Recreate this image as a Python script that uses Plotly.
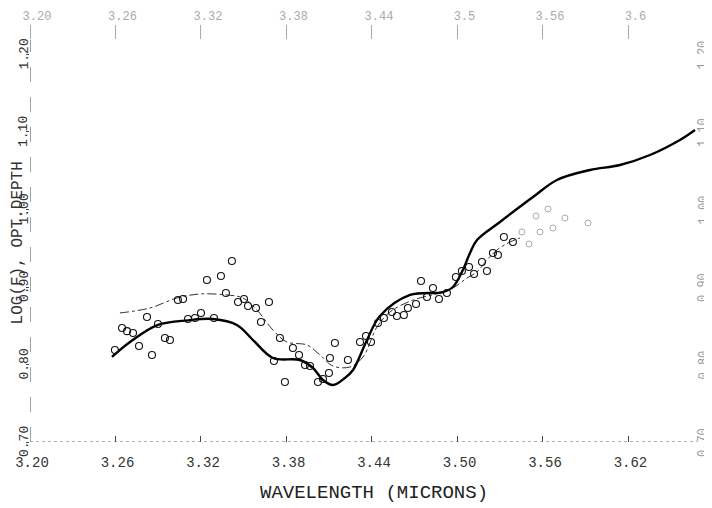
import plotly.graph_objects as go

# ---- data ----
wl_thick = [3.2575, 3.2702, 3.2898, 3.3109, 3.3284, 3.3452, 3.3565, 3.3705, 3.3895, 3.3986,
            3.4056, 3.4126, 3.4210, 3.4267, 3.4365, 3.4456, 3.4667, 3.4898, 3.4968, 3.5038,
            3.5088, 3.5137, 3.5298, 3.5530, 3.5698, 3.5930, 3.6140, 3.6351, 3.6561, 3.6667]
v_thick = [0.8097, 0.829, 0.851, 0.857, 0.8587, 0.851, 0.8316, 0.8084, 0.8058, 0.7955,
           0.780, 0.7735, 0.7826, 0.7929, 0.8316, 0.8626, 0.8897, 0.8935, 0.900, 0.922,
           0.9439, 0.9606, 0.9839, 1.0161, 1.0381, 1.051, 1.0574, 1.0703, 1.0897, 1.1026]

wl_thin = [3.2631, 3.2842, 3.3031, 3.3193, 3.3382, 3.3495, 3.3593, 3.3705, 3.3803, 3.3944,
           3.4035, 3.4126, 3.4245, 3.4337, 3.4435, 3.4526, 3.4688, 3.4877, 3.4968, 3.5067,
           3.5137, 3.5207, 3.5277, 3.5368, 3.5438]
v_thin = [0.8665, 0.8729, 0.8858, 0.891, 0.8897, 0.8858, 0.8703, 0.8445, 0.829, 0.8252,
          0.8123, 0.7981, 0.7968, 0.8097, 0.8484, 0.8677, 0.8832, 0.8923, 0.8987, 0.9116,
          0.9194, 0.9348, 0.9477, 0.958, 0.9632]

wl_pts = [3.2596, 3.2646, 3.2681, 3.2723, 3.2765, 3.2821, 3.2856, 3.2898, 3.2947, 3.2982,
          3.3038, 3.3074, 3.3109, 3.3158, 3.3200, 3.3242, 3.3291, 3.3340, 3.3375, 3.3417,
          3.3460, 3.3502, 3.3530, 3.3586, 3.3621, 3.3677, 3.3712, 3.3754, 3.3789, 3.3845,
          3.3888, 3.3930, 3.3965, 3.4021, 3.4056, 3.4098, 3.4105, 3.4140, 3.4231, 3.4316,
          3.4358, 3.4393, 3.4442, 3.4484, 3.4540, 3.4575, 3.4624, 3.4652, 3.4709, 3.4744,
          3.4786, 3.4828, 3.4870, 3.4926, 3.4989, 3.5031, 3.5081, 3.5116, 3.5172, 3.5207,
          3.5249, 3.5284, 3.5326, 3.5389]
v_pts = [0.8187, 0.847, 0.843, 0.8406, 0.8239, 0.8613, 0.8123, 0.8523, 0.8342, 0.8316,
         0.8832, 0.8845, 0.8587, 0.86, 0.8665, 0.909, 0.86, 0.9142, 0.8923, 0.9335,
         0.8806, 0.8845, 0.8755, 0.8729, 0.8548, 0.8806, 0.8045, 0.8342, 0.7774, 0.8213,
         0.8123, 0.7994, 0.7981, 0.7774, 0.7813, 0.789, 0.8084, 0.8277, 0.8058, 0.829,
         0.8368, 0.829, 0.8535, 0.86, 0.8677, 0.8626, 0.8639, 0.8729, 0.8781, 0.9077,
         0.8871, 0.8987, 0.8845, 0.8923, 0.9129, 0.9206, 0.9258, 0.9168, 0.9323, 0.9206,
         0.9439, 0.9413, 0.9645, 0.958]

wl_faint = [3.5452, 3.5502, 3.5551, 3.5579, 3.5635, 3.5670, 3.5754, 3.5916]
v_faint = [0.971, 0.9555, 0.9916, 0.971, 1.0006, 0.9761, 0.989, 0.9826]

x_ticks = [3.20, 3.26, 3.32, 3.38, 3.44, 3.50, 3.56, 3.62]
x_tick_labels = ["3.20", "3.26", "3.32", "3.38", "3.44", "3.50", "3.56", "3.62"]
top_tick_labels = ["3.20", "3.26", "3.32", "3.38", "3.44", "3.5", "3.56", "3.6"]
y_ticks = [0.70, 0.80, 0.90, 1.00, 1.10, 1.20]
y_tick_labels = ["0.70", "0.80", "0.90", "1.00", "1.10", "1.20"]

# page has an 8px body margin, so the figure is sized to fit the 712x508 window
W, H = 704, 500
L, R, T, B = 22, 15, 32, 66
PLOT_W = W - L - R
PLOT_H = H - T - B
X_RANGE = [3.20, 3.6681]
Y_RANGE = [0.70, 1.2187]
FONT = "Liberation Mono"

fig = go.Figure()

fig.add_trace(go.Scatter(x=wl_thin, y=v_thin, mode="lines", line_shape="spline",
                         line=dict(color="#333333", width=1, dash="dashdot"),
                         showlegend=False, hoverinfo="skip"))
fig.add_trace(go.Scatter(x=wl_thick, y=v_thick, mode="lines", line_shape="spline",
                         line=dict(color="#000000", width=2.4),
                         showlegend=False, hoverinfo="skip"))
fig.add_trace(go.Scatter(x=wl_pts, y=v_pts, mode="markers",
                         marker=dict(symbol="circle-open", size=7, color="#111111",
                                     line=dict(width=1.1)),
                         showlegend=False))
fig.add_trace(go.Scatter(x=wl_faint, y=v_faint, mode="markers",
                         marker=dict(symbol="circle-open", size=6, color="#aaaaaa",
                                     line=dict(width=1)),
                         showlegend=False))
fig.add_trace(go.Scatter(x=[3.3], y=[0.9], xaxis="x2", mode="markers",
                         marker=dict(opacity=0), showlegend=False, hoverinfo="skip"))

fig.add_shape(type="line", xref="x", yref="y", x0=X_RANGE[0], x1=X_RANGE[1], y0=0.70, y1=0.70,
              line=dict(color="#666666", width=1, dash="dot"))
fig.add_shape(type="line", xref="x", yref="y", x0=3.20, x1=3.20, y0=0.70, y1=Y_RANGE[1],
              line=dict(color="#444444", width=1, dash="longdash"))

# y-axis title
fig.add_annotation(text="LOG(F), OPT.DEPTH", xref="paper", yref="paper",
                   x=-12 / PLOT_W, y=0.494, xanchor="center", yanchor="middle", textangle=-90,
                   showarrow=False, font=dict(size=16, family=FONT, color="#333333"))
# left y labels (rotated)
for yv, lab in zip(y_ticks, y_tick_labels):
    fig.add_annotation(text=lab, xref="paper", yref="y", x=-6 / PLOT_W, y=yv,
                       xanchor="center", yanchor="middle", textangle=-90, showarrow=False,
                       font=dict(size=13, family=FONT, color="#333333"))
# right-hand duplicate labels (faint, rotated)
for yv, lab in zip(y_ticks, y_tick_labels):
    fig.add_annotation(text=lab, xref="paper", yref="y", x=(695 - L) / PLOT_W, y=yv,
                       xanchor="center", yanchor="middle", textangle=-90, showarrow=False,
                       font=dict(size=12, family=FONT, color="#999999"))
# x-axis title
fig.add_annotation(text="WAVELENGTH (MICRONS)", xref="paper", yref="paper",
                   x=(366 - L) / PLOT_W, y=-(485 - (H - B)) / PLOT_H,
                   xanchor="center", yanchor="middle", showarrow=False,
                   font=dict(size=19, family=FONT, color="#222222"))

fig.update_layout(
    width=W, height=H,
    margin=dict(l=L, r=R, t=T, b=B),
    paper_bgcolor="white", plot_bgcolor="white",
    font=dict(family=FONT, color="#222222"),
    xaxis=dict(range=X_RANGE, tickvals=x_ticks, ticktext=x_tick_labels, automargin=False,
               showgrid=False, zeroline=False, showline=False,
               ticks="inside", ticklen=6, tickcolor="#444444",
               tickfont=dict(size=14, family=FONT, color="#333333"),
               ticklabelshift=2, ticklabelstandoff=10),
    yaxis=dict(range=Y_RANGE, tickvals=y_ticks, showticklabels=False, automargin=False,
               showgrid=False, zeroline=False, showline=False,
               ticks="outside", ticklen=3, tickcolor="#444444"),
    xaxis2=dict(range=X_RANGE, overlaying="x", side="top", tickvals=x_ticks, automargin=False,
                ticktext=top_tick_labels, showgrid=False, zeroline=False, showline=False,
                ticks="outside", ticklen=14, tickcolor="#aaaaaa", ticklabelshift=7,
                tickfont=dict(size=12, family=FONT, color="#aaaaaa")),
)

fig.write_html("out.html")
